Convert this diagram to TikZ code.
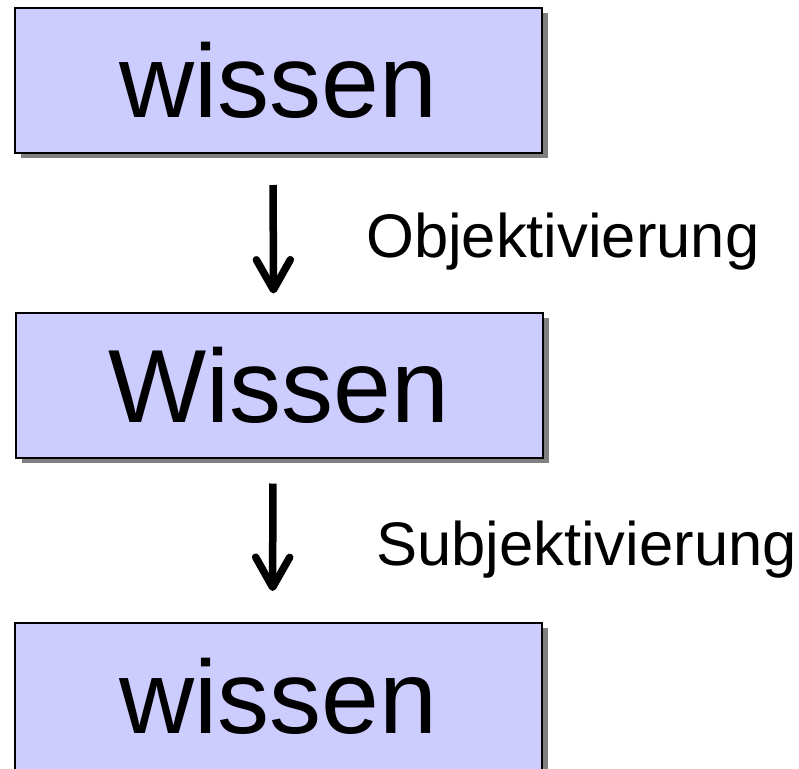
\documentclass[tikz,border=0pt]{standalone}
\usepackage{fontspec}
\setmainfont{Liberation Sans}
\usetikzlibrary{arrows.meta,shadows}
\definecolor{boxfill}{RGB}{204,204,255}
\definecolor{shadowgray}{RGB}{128,128,128}
\begin{document}
\begin{tikzpicture}[x=1pt,y=-1pt,
  wbox/.style={draw=black,line width=2pt,fill=boxfill,minimum width=527pt,minimum height=145pt,
    inner sep=0pt,font=\fontsize{104}{110}\selectfont,
    drop shadow={shadow xshift=6pt,shadow yshift=-5pt,fill=shadowgray,opacity=1}},
  flow/.style={line width=7.5pt,-{Straight Barb[round,length=30pt,width=34pt,line width=7.5pt]}},
  lbl/.style={anchor=base west,inner sep=0pt,font=\fontsize{61.5}{66}\selectfont}]
\clip (0,0) rectangle (799,768);
\fill[white] (0,0) rectangle (799,768);
\node[wbox] (top) at (278.5,80.5) {wissen};
\node[wbox] (mid) at (279,385) {Wissen};
\node[wbox,minimum height=165pt] (bot) at (278.5,705.5) {\raisebox{9.7pt}[74.5pt][0pt]{wissen}};
\draw[flow,shorten <=31pt,shorten >=18pt] ([xshift=-5.5pt]top.south) -- ([xshift=-5.5pt]mid.north);
\draw[flow,shorten <=25pt,shorten >=31pt] ([xshift=-6pt]mid.south) -- ([xshift=-6pt]bot.north);
\node[lbl] (obj) at (366,257) {Objektivierung};
\node[lbl] (subj) at (376,565) {Subjektivierung};
\end{tikzpicture}
\end{document}
